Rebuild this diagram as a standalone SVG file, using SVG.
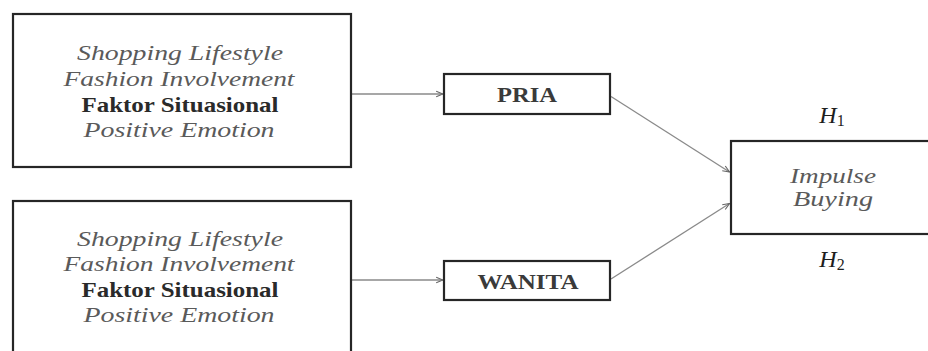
<svg xmlns="http://www.w3.org/2000/svg" width="928" height="351" viewBox="0 0 928 351">
<style>
.box{fill:#fff;stroke:#262626;stroke-width:2.2}
.it{font-family:"Liberation Serif","Times New Roman",serif;font-style:italic;font-size:21px;fill:#5a5a5a;text-anchor:middle}
.bd{font-family:"Liberation Serif","Times New Roman",serif;font-weight:bold;font-size:21px;fill:#2a2a2a;text-anchor:middle}
.lab{font-family:"Liberation Serif","Times New Roman",serif;font-weight:bold;font-size:21px;fill:#3a3a3a;text-anchor:middle}
.h{font-family:"Liberation Serif","Times New Roman",serif;font-style:italic;font-size:24px;fill:#1e1e1e;text-anchor:middle}
.sub{font-style:normal;font-size:16px}
.con{stroke:#8a8a8a;stroke-width:1.3;fill:none;marker-end:url(#ah)}
</style>
<defs>
<marker id="ah" viewBox="0 0 10 10" refX="9.5" refY="5" markerWidth="8" markerHeight="8" markerUnits="userSpaceOnUse" orient="auto">
<path d="M1,1.5 L9.5,5 L1,8.5" fill="none" stroke="#666" stroke-width="1.4"/>
</marker>
</defs>
<rect width="928" height="351" fill="#fff"/>
<g id="connectors">
<line class="con" x1="351" y1="94" x2="443" y2="94"/>
<line class="con" x1="351" y1="280" x2="443" y2="280"/>
<line class="con" x1="611" y1="96.5" x2="729.5" y2="172"/>
<line class="con" x1="611" y1="279" x2="729.5" y2="203.5"/>
</g>
<g id="factors-top">
<rect class="box" x="13" y="14" width="338" height="153"/>
<text class="it" x="180" y="60" textLength="206" lengthAdjust="spacingAndGlyphs">Shopping Lifestyle</text>
<text class="it" x="179" y="86" textLength="231" lengthAdjust="spacingAndGlyphs">Fashion Involvement</text>
<text class="bd" x="180" y="112" textLength="197" lengthAdjust="spacingAndGlyphs">Faktor Situasional</text>
<text class="it" x="179" y="137" textLength="191" lengthAdjust="spacingAndGlyphs">Positive Emotion</text>
</g>
<g id="factors-bottom">
<rect class="box" x="13" y="201" width="338" height="170"/>
<text class="it" x="180" y="246" textLength="206" lengthAdjust="spacingAndGlyphs">Shopping Lifestyle</text>
<text class="it" x="179" y="271" textLength="231" lengthAdjust="spacingAndGlyphs">Fashion Involvement</text>
<text class="bd" x="180" y="297" textLength="197" lengthAdjust="spacingAndGlyphs">Faktor Situasional</text>
<text class="it" x="179" y="322" textLength="191" lengthAdjust="spacingAndGlyphs">Positive Emotion</text>
</g>
<g id="pria">
<rect class="box" x="444" y="74" width="166" height="40"/>
<text class="lab" x="527" y="102" textLength="60" lengthAdjust="spacingAndGlyphs">PRIA</text>
</g>
<g id="wanita">
<rect class="box" x="444" y="261" width="166" height="39"/>
<text class="lab" x="528" y="289" textLength="101" lengthAdjust="spacingAndGlyphs">WANITA</text>
</g>
<g id="impulse-buying">
<rect class="box" x="731" y="141" width="220" height="93"/>
<text class="it" x="833" y="183" textLength="86" lengthAdjust="spacingAndGlyphs">Impulse</text>
<text class="it" x="833" y="206" textLength="80" lengthAdjust="spacingAndGlyphs">Buying</text>
</g>
<g id="h1">
<text class="h" x="832" y="123">H<tspan class="sub" dy="3">1</tspan></text>
</g>
<g id="h2">
<text class="h" x="832" y="267">H<tspan class="sub" dy="3">2</tspan></text>
</g>
</svg>
